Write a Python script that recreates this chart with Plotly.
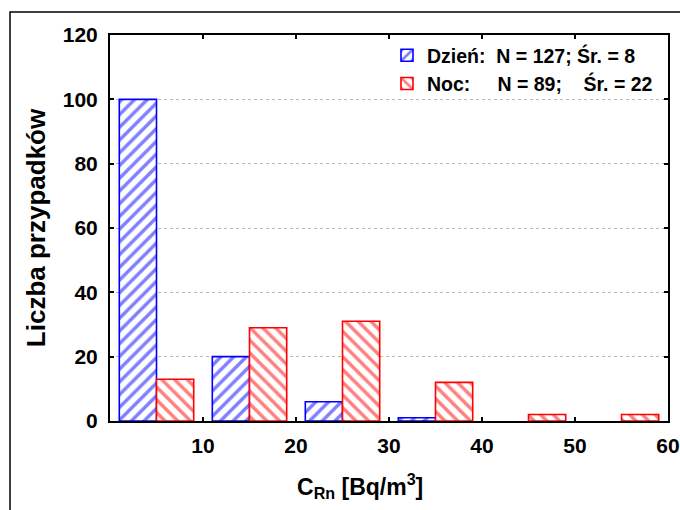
import plotly.graph_objects as go

bin_centers = [5, 15, 25, 35, 45, 55]
day_counts = [100, 20, 6, 1, 0, 0]
night_counts = [13, 29, 31, 12, 2, 2]
day_label = "Dzień:\u00a0\u00a0N = 127;\u00a0Śr. = 8"
night_label = "Noc:\u00a0\u00a0\u00a0\u00a0\u00a0N = 89;\u00a0\u00a0\u00a0\u00a0Śr. = 22"
x_title = "C<sub>Rn</sub> [Bq/m<sup>3</sup>]"
y_title = "Liczba przypadków"
x_ticks = [10, 20, 30, 40, 50, 60]
y_ticks = [0, 20, 40, 60, 80, 100, 120]

FONT = "Liberation Sans, Arial, sans-serif"
BLUE = "#0000FF"
RED = "#FF0000"


def hide_zero(vals):
    return [v if v else None for v in vals]


fig = go.Figure()
fig.add_trace(go.Bar(
    x=bin_centers, y=hide_zero(day_counts), name=day_label,
    marker=dict(color="white", line=dict(color=BLUE, width=1.6),
                pattern=dict(shape="/", fgcolor=BLUE, bgcolor="white", size=9, solidity=0.38)),
))
fig.add_trace(go.Bar(
    x=bin_centers, y=hide_zero(night_counts), name=night_label,
    marker=dict(color="white", line=dict(color=RED, width=1.6),
                pattern=dict(shape="\\", fgcolor=RED, bgcolor="white", size=9, solidity=0.38)),
))

W, H = 680, 510
L, R, T, B = 110, 12, 35, 89
pw, ph = W - L - R, H - T - B


def px(xp):
    return (xp - L) / pw


def py(yp):
    return (H - B - yp) / ph


fig.update_layout(
    width=W, height=H,
    margin=dict(l=L, r=R, t=T, b=B, autoexpand=False),
    paper_bgcolor="white", plot_bgcolor="white",
    barmode="group", bargap=0.2, bargroupgap=0.0,
    font=dict(family=FONT, color="black", weight="bold"),
    legend=dict(x=px(387), y=py(36), xanchor="left", yanchor="top",
                font=dict(family=FONT, size=19.5, color="black", weight="bold"),
                bgcolor="rgba(255,255,255,0)", borderwidth=0, itemwidth=30),
    xaxis=dict(range=[0, 60], tickvals=x_ticks, ticks="inside", ticklen=4, tickwidth=1.5,
               tickcolor="black", showline=True, linecolor="black", linewidth=2,
               mirror="allticks", showgrid=False, zeroline=False, automargin=False,
               tickfont=dict(family=FONT, size=21, color="black", weight="bold"),
               ticklabelstandoff=5),
    yaxis=dict(range=[0, 120], tickvals=y_ticks, ticks="inside", ticklen=4, tickwidth=1.5,
               tickcolor="black", showline=True, linecolor="black", linewidth=2,
               mirror="allticks", showgrid=True, gridcolor="#b8b8b8", griddash="dot", gridwidth=1,
               zeroline=False, automargin=False,
               tickfont=dict(family=FONT, size=21, color="black", weight="bold"),
               ticklabelstandoff=6,
               title=dict(text=y_title, standoff=10,
                          font=dict(family=FONT, size=26, color="black", weight="bold"))),
    annotations=[dict(text=x_title, xref="paper", yref="paper", x=px(360), y=py(486),
                      xanchor="center", yanchor="middle", showarrow=False,
                      font=dict(family=FONT, size=23, color="black", weight="bold"))],
)

fig.add_shape(type="rect", xref="paper", yref="paper",
              x0=px(10), x1=px(W + 5), y0=py(H + 5), y1=py(12),
              line=dict(color="black", width=1.5), fillcolor="rgba(0,0,0,0)", layer="above")

fig.write_html("out.html")
